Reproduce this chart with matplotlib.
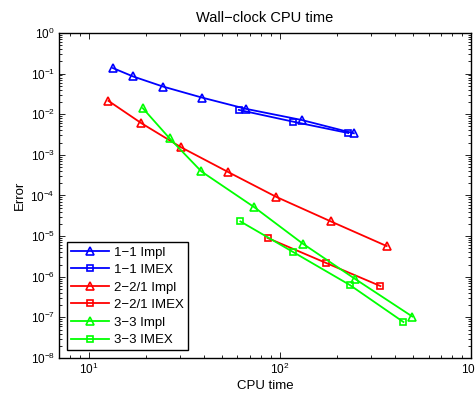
#!/usr/bin/env python3
import matplotlib
matplotlib.use("Agg")
import matplotlib.pyplot as plt
from matplotlib.ticker import LogLocator, NullFormatter

plt.rcParams["font.family"] = ["Liberation Sans", "DejaVu Sans"]
plt.rcParams["mathtext.default"] = "regular"

# CPU time (s) and error for each scheme
t_11_impl = [13.4, 17.1, 24.5, 39.2, 66.9, 130, 244]
e_11_impl = [0.137, 0.085, 0.048, 0.0257, 0.0135, 0.00723, 0.0034]
t_11_imex = [61, 117.5, 228]
e_11_imex = [0.0128, 0.00656, 0.00345]

t_221_impl = [12.7, 18.9, 30.5, 53.8, 96, 185, 362]
e_221_impl = [0.0213, 0.0060, 0.00153, 0.000376, 9.2e-5, 2.3e-5, 5.7e-6]
t_221_imex = [86.3, 174, 336]
e_221_imex = [9.0e-6, 2.2e-6, 5.9e-7]

t_33_impl = [19.2, 26.5, 38.9, 73.3, 132, 247, 493]
e_33_impl = [0.0141, 0.00256, 0.00039, 5.2e-5, 6.5e-6, 8.9e-7, 1.05e-7]
t_33_imex = [62.2, 117.5, 232, 443]
e_33_imex = [2.3e-5, 4.05e-6, 6.3e-7, 7.7e-8]

series = [
    (t_11_impl, e_11_impl, "1\u22121 Impl", "#0000ff", "^"),
    (t_11_imex, e_11_imex, "1\u22121 IMEX", "#0000ff", "s"),
    (t_221_impl, e_221_impl, "2\u22122/1 Impl", "#ff0000", "^"),
    (t_221_imex, e_221_imex, "2\u22122/1 IMEX", "#ff0000", "s"),
    (t_33_impl, e_33_impl, "3\u22123 Impl", "#00ff00", "^"),
    (t_33_imex, e_33_imex, "3\u22123 IMEX", "#00ff00", "s"),
]

fig = plt.figure(figsize=(4.75, 3.95), dpi=100)
ax = fig.add_axes([59 / 475, 1 - 358 / 395, 412 / 475, 325 / 395])

for t, e, label, color, marker in series:
    ms = 6 if marker == "^" else 4.3
    ax.loglog(t, e, color=color, marker=marker, markersize=ms,
              markerfacecolor="none", markeredgewidth=1.2, linewidth=1.3,
              label=label)

ax.set_xlim(7, 1000)
ax.set_ylim(1e-8, 1)
ax.xaxis.set_major_locator(LogLocator(base=10, numticks=10))
ax.yaxis.set_major_locator(LogLocator(base=10, numticks=20))
ax.xaxis.set_minor_locator(LogLocator(base=10, subs=range(2, 10), numticks=20))
ax.yaxis.set_minor_locator(LogLocator(base=10, subs=range(2, 10), numticks=20))
ax.xaxis.set_minor_formatter(NullFormatter())
ax.yaxis.set_minor_formatter(NullFormatter())

ax.tick_params(which="both", direction="in", top=True, right=True,
               labelsize=8.5, width=0.6)
ax.tick_params(which="major", length=4, pad=3)
ax.tick_params(which="minor", length=2)
for s in ax.spines.values():
    s.set_linewidth(1.0)

ax.set_title("Wall\u2212clock CPU time", fontsize=10.5, pad=8)
ax.set_xlabel("CPU time", fontsize=9.5, labelpad=2)
ax.set_ylabel("Error", fontsize=9.5, labelpad=3)

leg = ax.legend(loc="lower left", fontsize=9.5, fancybox=False, framealpha=1,
                edgecolor="black", handlelength=2.9, handletextpad=0.4,
                labelspacing=0.4, borderpad=0.3, borderaxespad=0.6)
leg.get_frame().set_linewidth(1.0)

fig.savefig("out.png", dpi=100)
